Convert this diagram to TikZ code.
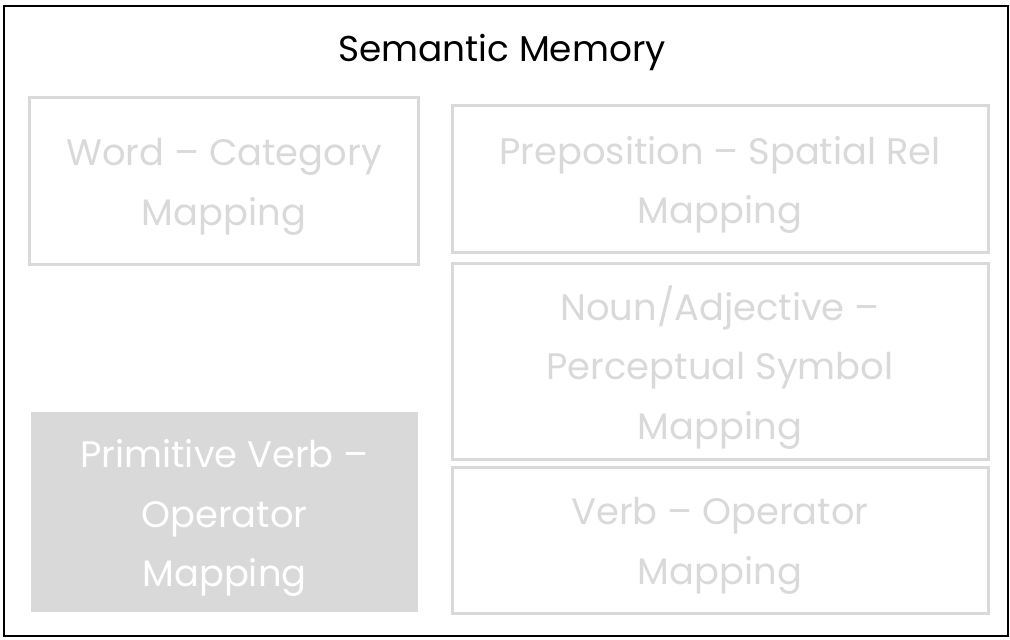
\documentclass[tikz,border=0pt]{standalone}
\usepackage{fontspec}
\setmainfont{Poppins}
\definecolor{boxgray}{HTML}{D9D9D9}
\begin{document}
\begin{tikzpicture}[x=1bp,y=-1bp,font=\fontsize{37}{60}\selectfont]
	\tikzstyle{every node}=[align=center,inner sep=0pt,outer sep=0pt]
	\tikzstyle{MAP} =[draw=boxgray,line width=3bp] % MAP = outlined mapping box
	\tikzstyle{PRIM}=[fill=boxgray]                % PRIM = primitive (filled) box
	\tikzstyle{TXT} =[text=boxgray,yshift=-6bp]   % TXT = box text, a bit low as in the slide
	\useasboundingbox (0,0) rectangle (1010,640);
	% outer frame and title
	\node(mem)[draw=black,line width=2.5bp,minimum width=1004bp,minimum height=630bp] at (506,321) {};
	\node(title)[anchor=base,font=\fontsize{36}{60}\selectfont] at (502,62) {Semantic Memory};
	% left column
	\node(word)[MAP,minimum width=388bp,minimum height=166bp] at (224,181) {};
	\node(prim)[PRIM,minimum width=387bp,minimum height=200bp] at (224.5,512) {};
	% right column
	\node(prep)[MAP,minimum width=536bp,minimum height=146bp] at (720,179) {};
	\node(noun)[MAP,minimum width=536bp,minimum height=195bp] at (720,361.5) {};
	\node(verb)[MAP,minimum width=536bp,minimum height=146bp] at (720,540) {};
	% texts
	\node(wordtxt)[TXT] at (word.center) {Word -- Category\\Mapping};
	\node(primtxt)[TXT,text=white] at (prim.center) {Primitive Verb --\\Operator\\Mapping};
	\node(preptxt)[TXT] at (prep.center) {Preposition -- Spatial Rel\\Mapping};
	\node(nountxt)[TXT] at (noun.center) {Noun/Adjective --\\Perceptual Symbol\\Mapping};
	\node(verbtxt)[TXT] at (verb.center) {Verb -- Operator\\Mapping};
\end{tikzpicture}
\end{document}
